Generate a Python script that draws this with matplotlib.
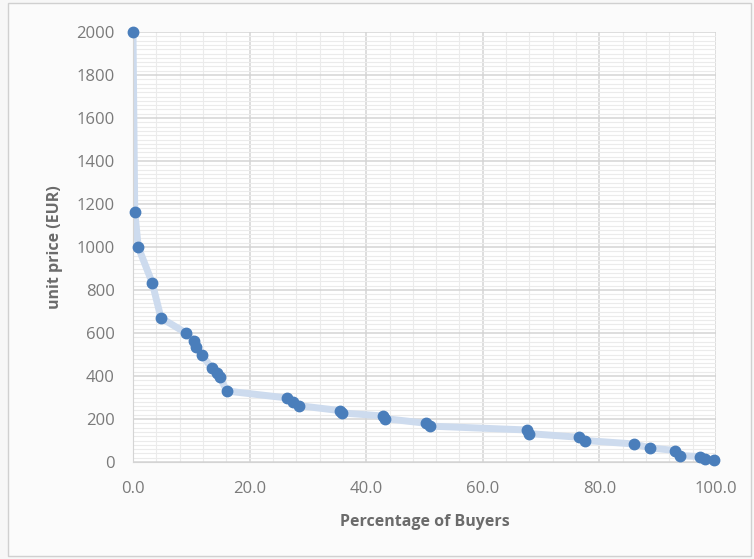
import matplotlib
matplotlib.use("Agg")
import matplotlib.pyplot as plt
from matplotlib.ticker import MultipleLocator, FormatStrFormatter
from matplotlib.patches import Rectangle

pct_buyers = [0.0, 0.3, 0.9, 3.3, 4.8, 9.1, 10.5, 10.8, 11.8, 13.5, 14.4, 14.9, 16.1,
              26.4, 27.4, 28.5, 35.5, 35.9, 42.9, 43.2, 50.3, 50.9, 67.5, 68.0,
              76.5, 77.5, 85.9, 88.7, 93.0, 93.8, 97.3, 98.1, 99.7]
unit_price = [2000, 1165, 1000, 833, 670, 600, 563, 535, 498, 437, 414, 395, 330,
              298, 279, 262, 239, 228, 214, 202, 180, 167, 149, 132,
              115, 100, 84, 66, 53, 30, 25, 15, 8]

fig = plt.figure(figsize=(7.54, 5.59), dpi=100, facecolor="#f7f7f7")
fig.patches.append(Rectangle((0.011, 0.005), 0.985, 0.99, transform=fig.transFigure,
                             facecolor="#fbfbfb", edgecolor="#d0d0d0", linewidth=1.0, zorder=-1))
ax = fig.add_axes([133/754, 1-462/559, (716-133)/754, (462-32)/559])
ax.set_facecolor("white")

ax.plot(pct_buyers, unit_price, color="#cddbee", linewidth=5, solid_capstyle="round",
        solid_joinstyle="round", zorder=2)
ax.plot(pct_buyers, unit_price, linestyle="none", marker="o", markersize=7.5,
        color="#4a7ebb", markeredgecolor="#4a7ebb", zorder=3, clip_on=False)

ax.set_xlim(0, 100)
ax.set_ylim(0, 2000)
ax.xaxis.set_major_locator(MultipleLocator(20))
ax.xaxis.set_minor_locator(MultipleLocator(4))
ax.yaxis.set_major_locator(MultipleLocator(200))
ax.yaxis.set_minor_locator(MultipleLocator(20))
ax.xaxis.set_major_formatter(FormatStrFormatter("%.1f"))
ax.grid(which="major", color="#d4d4d4", linewidth=1.1, zorder=0)
ax.grid(which="minor", color="#ebebeb", linewidth=0.8, zorder=0)
ax.set_axisbelow(True)
for s in ax.spines.values():
    s.set_visible(False)
ax.spines["left"].set_visible(True)
ax.spines["left"].set_color("#d4d4d4")
ax.spines["bottom"].set_visible(True)
ax.spines["bottom"].set_color("#d4d4d4")
ax.tick_params(which="both", length=0, colors="#7a7a7a", labelsize=12)
ax.tick_params(axis="y", pad=13)
ax.tick_params(axis="x", pad=14)
for lab in ax.get_xticklabels() + ax.get_yticklabels():
    lab.set_family("Open Sans")

ax.set_xlabel("Percentage of Buyers", fontsize=11.5, fontweight="bold", color="#6b6b6b",
              family="Open Sans", labelpad=12)
ax.set_ylabel("unit price (EUR)", fontsize=11.5, fontweight="bold", color="#6b6b6b",
              family="Open Sans", labelpad=10)

fig.savefig("out.png", dpi=100, facecolor=fig.get_facecolor())
